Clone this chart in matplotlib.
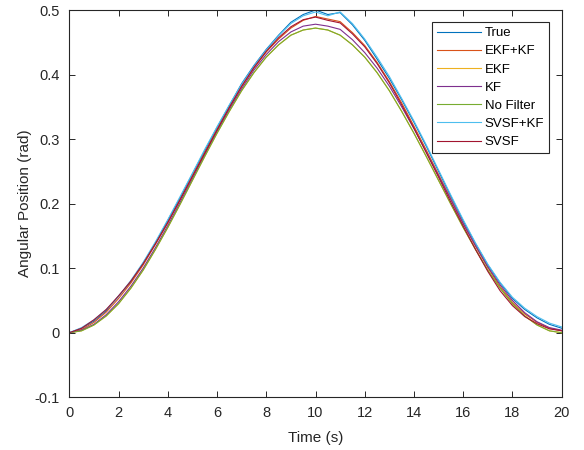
import matplotlib
matplotlib.use("Agg")
import matplotlib.pyplot as plt

time_s = [0.0, 0.5, 1.0, 1.5, 2.0, 2.5, 3.0, 3.5, 4.0, 4.5, 5.0, 5.5, 6.0, 6.5, 7.0, 7.5,
          8.0, 8.5, 9.0, 9.5, 10.0, 10.5, 11.0, 11.5, 12.0, 12.5, 13.0, 13.5, 14.0, 14.5,
          15.0, 15.5, 16.0, 16.5, 17.0, 17.5, 18.0, 18.5, 19.0, 19.5, 20.0]

true_pos = [0.000, 0.007, 0.018, 0.034, 0.057, 0.079, 0.108, 0.139, 0.174, 0.209, 0.246,
            0.282, 0.318, 0.352, 0.386, 0.414, 0.439, 0.461, 0.481, 0.493, 0.500, 0.493,
            0.496, 0.477, 0.453, 0.424, 0.394, 0.361, 0.326, 0.289, 0.250, 0.211, 0.173,
            0.138, 0.105, 0.077, 0.053, 0.036, 0.023, 0.013, 0.007]
ekf_kf = [0.000, 0.005, 0.016, 0.032, 0.053, 0.077, 0.105, 0.137, 0.170, 0.206, 0.243,
          0.279, 0.315, 0.349, 0.381, 0.410, 0.435, 0.455, 0.472, 0.484, 0.490, 0.486,
          0.482, 0.465, 0.445, 0.419, 0.389, 0.356, 0.320, 0.283, 0.245, 0.207, 0.169,
          0.134, 0.101, 0.071, 0.047, 0.029, 0.016, 0.007, 0.003]
ekf = [0.000, 0.003, 0.012, 0.026, 0.045, 0.069, 0.097, 0.129, 0.163, 0.199, 0.236,
       0.273, 0.309, 0.343, 0.375, 0.403, 0.427, 0.446, 0.461, 0.469, 0.472, 0.469,
       0.461, 0.446, 0.427, 0.403, 0.375, 0.343, 0.309, 0.273, 0.236, 0.199, 0.163,
       0.129, 0.097, 0.069, 0.045, 0.026, 0.012, 0.003, 0.000]
kf = [0.000, 0.004, 0.013, 0.028, 0.048, 0.072, 0.100, 0.132, 0.166, 0.202, 0.239,
      0.276, 0.312, 0.346, 0.378, 0.407, 0.431, 0.451, 0.466, 0.475, 0.478, 0.475,
      0.470, 0.454, 0.434, 0.410, 0.382, 0.350, 0.316, 0.280, 0.243, 0.206, 0.169,
      0.135, 0.102, 0.074, 0.050, 0.031, 0.017, 0.008, 0.004]
no_filter = [0.000, 0.003, 0.012, 0.026, 0.045, 0.069, 0.097, 0.129, 0.163, 0.199, 0.236,
             0.273, 0.309, 0.343, 0.375, 0.403, 0.427, 0.446, 0.461, 0.469, 0.472, 0.469,
             0.461, 0.446, 0.427, 0.403, 0.375, 0.343, 0.309, 0.273, 0.236, 0.199, 0.163,
             0.129, 0.097, 0.069, 0.045, 0.026, 0.012, 0.003, 0.000]
svsf_kf = [0.000, 0.008, 0.020, 0.036, 0.056, 0.081, 0.109, 0.141, 0.175, 0.211, 0.247,
           0.284, 0.319, 0.353, 0.385, 0.413, 0.438, 0.460, 0.479, 0.491, 0.497, 0.491,
           0.497, 0.479, 0.455, 0.427, 0.397, 0.363, 0.328, 0.291, 0.252, 0.213, 0.175,
           0.139, 0.106, 0.078, 0.055, 0.038, 0.025, 0.015, 0.009]
svsf = [0.000, 0.007, 0.020, 0.036, 0.057, 0.080, 0.107, 0.138, 0.171, 0.206, 0.242,
        0.278, 0.314, 0.349, 0.382, 0.411, 0.436, 0.457, 0.474, 0.485, 0.489, 0.484,
        0.480, 0.463, 0.443, 0.417, 0.387, 0.353, 0.317, 0.279, 0.241, 0.202, 0.165,
        0.129, 0.095, 0.065, 0.042, 0.025, 0.014, 0.006, 0.003]

series_names = ["True", "EKF+KF", "EKF", "KF", "No Filter", "SVSF+KF", "SVSF"]
series_values = [true_pos, ekf_kf, ekf, kf, no_filter, svsf_kf, svsf]
series_colors = ["#0072BD", "#D95319", "#EDB120", "#7E2F8E", "#77AC30", "#4DBEEE", "#A2142F"]

x_ticks = [0, 2, 4, 6, 8, 10, 12, 14, 16, 18, 20]
y_ticks = [-0.1, 0, 0.1, 0.2, 0.3, 0.4, 0.5]
y_tick_labels = ["-0.1", "0", "0.1", "0.2", "0.3", "0.4", "0.5"]

plt.rcParams["font.family"] = ["Liberation Sans", "DejaVu Sans"]
axc = "#262626"

fig = plt.figure(figsize=(5.84, 4.5), dpi=100)
ax = fig.add_axes([69.3 / 584, 1 - 397.3 / 450, (561.7 - 69.3) / 584, (397.3 - 10) / 450])

for name, vals, col in zip(series_names, series_values, series_colors):
    ax.plot(time_s, vals, color=col, lw=0.8, label=name)

ax.set_xlim(0, 20)
ax.set_ylim(-0.1, 0.5)
ax.set_xticks(x_ticks)
ax.set_yticks(y_ticks)
ax.set_yticklabels(y_tick_labels)
ax.tick_params(direction="in", length=4, width=0.7, top=True, right=True,
               colors=axc, labelsize=10.5)
ax.tick_params(axis="y", pad=7)
ax.tick_params(axis="x", pad=6)
for sp in ax.spines.values():
    sp.set_color(axc)
    sp.set_linewidth(0.8)

ax.set_xlabel("Time (s)", fontsize=11, color=axc, labelpad=8)
ax.set_ylabel("Angular Position (rad)", fontsize=11, color=axc, labelpad=2)

leg = ax.legend(loc="upper right", bbox_to_anchor=(548.7 / 584, 1 - 22.3 / 450),
                bbox_transform=fig.transFigure, borderaxespad=0,
                fontsize=9.5, handlelength=3.3, handletextpad=0.3, labelspacing=0.45,
                borderpad=0.35, fancybox=False, framealpha=1, edgecolor=axc)
leg.get_frame().set_linewidth(0.8)

fig.savefig("out.png", dpi=100)
